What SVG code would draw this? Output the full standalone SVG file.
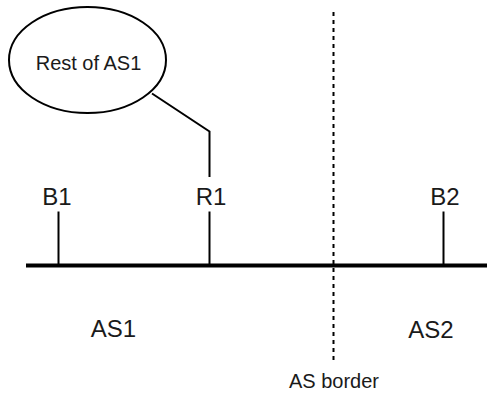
<svg xmlns="http://www.w3.org/2000/svg" width="487" height="393" viewBox="0 0 487 393">
<style>
text{font-family:"Liberation Sans",Arial,sans-serif;fill:#1a1a1a;text-anchor:middle}
.l{font-size:24px}
.s{font-size:20px}
.ln{stroke:#000;stroke-width:2;fill:none}
</style>
<rect width="487" height="393" fill="#fff"/>
<g id="connectors">
<polyline class="ln" points="152,93.5 209.5,131.5 209.5,177"/>
<line x1="26" y1="265.5" x2="487" y2="265.5" stroke="#000" stroke-width="4"/>
<line class="ln" x1="58.5" y1="211.5" x2="58.5" y2="265"/>
<line class="ln" x1="209.5" y1="211.5" x2="209.5" y2="265"/>
<line class="ln" x1="443.5" y1="211.5" x2="443.5" y2="265"/>
<line x1="333.5" y1="12" x2="333.5" y2="360" stroke="#000" stroke-width="2" stroke-dasharray="4 4"/>
</g>
<g id="rest">
<ellipse cx="87.5" cy="60" rx="78.5" ry="53" fill="#fff" stroke="#000" stroke-width="2"/>
<text class="s" x="88.5" y="70">Rest of AS1</text>
</g>
<g id="B1"><text class="l" x="57" y="205">B1</text></g>
<g id="R1"><text class="l" x="211" y="205">R1</text></g>
<g id="B2"><text class="l" x="445" y="205">B2</text></g>
<g id="AS1"><text class="l" x="113.5" y="337">AS1</text></g>
<g id="AS2"><text class="l" x="431" y="338">AS2</text></g>
<g id="border"><text class="s" x="334" y="387.5">AS border</text></g>
</svg>
